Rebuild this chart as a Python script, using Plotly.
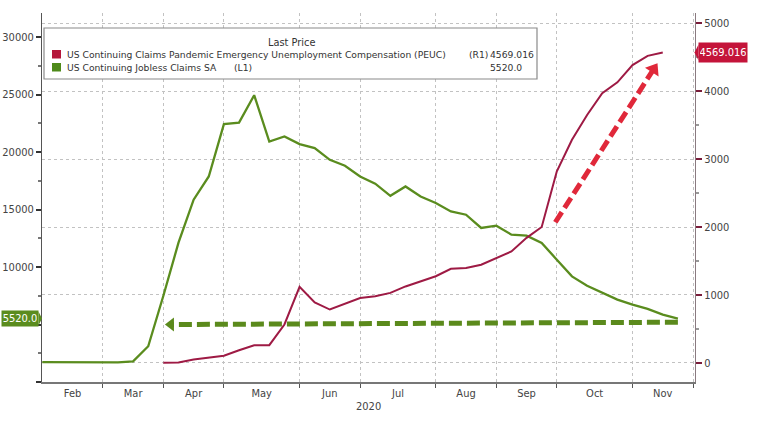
import math
import plotly.graph_objects as go
import pandas as pd

# ---------------- data ----------------
weeks = [d.strftime("%Y-%m-%d") for d in pd.date_range("2020-02-01", periods=43, freq="W-SAT")]

jobless_sa = [1730, 1720, 1710, 1730, 1720, 1700, 1800, 3110, 7500, 12120,
              15860, 17880, 22430, 22570, 24950, 20920, 21360, 20700, 20350, 19330,
              18810, 17880, 17250, 16200, 17010, 16140, 15570, 14840, 14550, 13400,
              13600, 12820, 12730, 12090, 10640, 9190, 8380, 7750, 7170, 6730,
              6360, 5860, 5520.0]

peuc = [None, None, None, None, None, None, None, None, 0, 5,
        50, 80, 105, 185, 260, 260, 565, 1120, 890, 785,
        870, 955, 980, 1030, 1125, 1200, 1275, 1385, 1395, 1445,
        1545, 1640, 1840, 2000, 2820, 3285, 3650, 3970, 4130, 4385,
        4520, 4569.016, None]

month_labels = ["Feb", "Mar", "Apr", "May", "Jun", "Jul", "Aug", "Sep", "Oct", "Nov"]
month_label_pos = [2, 6, 10, 14.5, 19, 23.5, 28, 32, 36.5, 41]
month_bounds = [4, 8, 12, 17, 21, 26, 30, 34, 39, 43]

left_ticks = [0, 5000, 10000, 15000, 20000, 25000, 30000]
left_ticktext = ["", "", "10000", "15000", "20000", "25000", "30000"]
right_ticks = [0, 1000, 2000, 3000, 4000, 5000]

# annotation arrows (week index, axis value)
green_arrow_x = [42, 8.5]
green_arrow_y = [5200, 5000]
red_arrow_x = [33.9, 40.4]
red_arrow_y = [2070, 4325]

series_names = ["US Continuing Claims Pandemic Emergency Unemployment Compensation (PEUC)",
                "US Continuing Jobless Claims SA"]

# ---------------- style ----------------
W, H = 760, 424
L, R, T, B = 42, 695, 13, 382
X_RANGE = [-0.02, 43.13]
Y1_RANGE = [0, 32100]
Y2_RANGE = [-282, 5151]
GREEN = "#5a8c1e"
RED_LINE = "#9e1a44"
RED_TAG = "#c4143a"
FONT = "DejaVu Sans"
TICKFONT = "Liberation Sans Narrow, DejaVu Sans Condensed, Liberation Sans"


def px_x(p):
    return (p - L) / (R - L)


def px_y(p):
    return (B - p) / (B - T)


# screen angle of the red arrow (degrees clockwise from up)
sx = (R - L) / (X_RANGE[1] - X_RANGE[0])
sy2 = (B - T) / (Y2_RANGE[1] - Y2_RANGE[0])
red_angle = math.degrees(math.atan2((red_arrow_x[1] - red_arrow_x[0]) * sx,
                                    (red_arrow_y[1] - red_arrow_y[0]) * sy2))

x_idx = list(range(len(weeks)))

fig = go.Figure()
fig.add_trace(go.Scatter(x=x_idx, y=jobless_sa, yaxis="y", mode="lines",
                         line=dict(color=GREEN, width=2.3), customdata=weeks,
                         name=series_names[1]))
fig.add_trace(go.Scatter(x=x_idx, y=peuc, yaxis="y2", mode="lines",
                         line=dict(color=RED_LINE, width=2), customdata=weeks,
                         name=series_names[0]))

# dashed arrows
fig.add_trace(go.Scatter(x=green_arrow_x, y=green_arrow_y, yaxis="y", mode="lines",
                         line=dict(color="#5b8a1c", width=5, dash="13px,5px"),
                         hoverinfo="skip"))
fig.add_trace(go.Scatter(x=[green_arrow_x[-1]], y=[green_arrow_y[-1]], yaxis="y", mode="markers",
                         marker=dict(size=12, symbol="triangle-left", color="#5b8a1c"),
                         hoverinfo="skip"))
fig.add_trace(go.Scatter(x=red_arrow_x, y=red_arrow_y, yaxis="y2", mode="lines",
                         line=dict(color="#e0283a", width=5, dash="12px,5px"),
                         hoverinfo="skip"))
fig.add_trace(go.Scatter(x=[red_arrow_x[-1]], y=[red_arrow_y[-1]], yaxis="y2", mode="markers",
                         marker=dict(size=14, symbol="triangle-up", angle=red_angle,
                                     color="#e0283a"),
                         hoverinfo="skip"))

fig.update_layout(
    width=W, height=H,
    margin=dict(l=L, r=W - R, t=T, b=H - B, autoexpand=False),
    paper_bgcolor="white", plot_bgcolor="white",
    showlegend=False,
    font=dict(family=FONT, size=10, color="#333"),
    xaxis=dict(
        range=X_RANGE, tickmode="array", tickvals=month_label_pos, ticktext=month_labels,
        ticks="", showgrid=False, zeroline=False,
        showline=True, linecolor="#777", linewidth=2,
        tickfont=dict(family=TICKFONT, size=11, color="#444"),
        minor=dict(tickvals=month_bounds, ticks="outside", ticklen=4, tickcolor="#555",
                   showgrid=True, griddash="dot", gridcolor="#c2c2c2", gridwidth=1),
    ),
    yaxis=dict(
        range=Y1_RANGE, tickmode="array", tickvals=left_ticks, ticktext=left_ticktext,
        ticks="outside", ticklen=5, tickwidth=2, tickcolor="#333",
        showgrid=False, zeroline=False, showline=True, linecolor="#555", linewidth=1,
        tickfont=dict(family=TICKFONT, size=11, color="#444"),
        minor=dict(dtick=2500, ticks="outside", ticklen=3, tickcolor="#777"),
    ),
    yaxis2=dict(
        range=Y2_RANGE, overlaying="y", side="right", tickmode="array", tickvals=right_ticks,
        ticks="outside", ticklen=6, tickwidth=2, tickcolor="#7a1c3a",
        showgrid=True, griddash="dot", gridcolor="#c2c2c2", gridwidth=1,
        zeroline=False, showline=True, linecolor="#8a7a80", linewidth=1,
        tickfont=dict(family=TICKFONT, size=11, color="#444"),
        minor=dict(dtick=500, ticks="outside", ticklen=3, tickcolor="#999"),
    ),
)

# ---------------- legend box ----------------
shapes = [
    dict(type="rect", xref="paper", yref="paper", x0=px_x(44), x1=px_x(537),
         y0=px_y(79), y1=px_y(28), line=dict(color="#8a8a8a", width=1.2),
         fillcolor="white", layer="above"),
    dict(type="rect", xref="paper", yref="paper", x0=px_x(52), x1=px_x(61),
         y0=px_y(58.5), y1=px_y(50), line=dict(width=0), fillcolor="#b5173b", layer="above"),
    dict(type="rect", xref="paper", yref="paper", x0=px_x(52), x1=px_x(61),
         y0=px_y(71.5), y1=px_y(63), line=dict(width=0), fillcolor="#4e8a1a", layer="above"),
]
lg_font = dict(family=FONT, size=9.2, color="#333")
ann = [
    dict(text="Last Price", x=px_x(291), y=px_y(42.5), xanchor="center",
         font=dict(family=FONT, size=9.8, color="#333")),
    dict(text=series_names[0], x=px_x(65), y=px_y(54.5), xanchor="left"),
    dict(text="(R1)", x=px_x(467), y=px_y(54.5), xanchor="left"),
    dict(text=f"{peuc[-2]:.3f}", x=px_x(488), y=px_y(54.5), xanchor="left"),
    dict(text=series_names[1], x=px_x(65), y=px_y(67.5), xanchor="left"),
    dict(text="(L1)", x=px_x(232), y=px_y(67.5), xanchor="left"),
    dict(text=f"{jobless_sa[-1]:.1f}", x=px_x(488), y=px_y(67.5), xanchor="left"),
]
annotations = []
for a in ann:
    a.setdefault("font", lg_font)
    a.update(xref="paper", yref="paper", yanchor="middle", showarrow=False)
    annotations.append(a)

# year label
annotations.append(dict(text="2020", xref="paper", yref="paper", x=0.5, y=0, yanchor="top",
                        yshift=-16, showarrow=False,
                        font=dict(family=TICKFONT, size=11, color="#444")))

# last-value tags
annotations.append(dict(text=f"{jobless_sa[-1]:.1f}", xref="paper", yref="y", x=px_x(39),
                        y=jobless_sa[-1], xanchor="right", yanchor="middle", showarrow=False,
                        bgcolor=GREEN, borderpad=1, width=34, height=13, align="center",
                        font=dict(family=TICKFONT, size=11, color="white")))
annotations.append(dict(text=f"{peuc[-2]:.3f}", xref="paper", yref="y2", x=px_x(698),
                        y=peuc[-2], xanchor="left", yanchor="middle", showarrow=False,
                        bgcolor=RED_TAG, borderpad=1, width=46, height=17, align="center",
                        font=dict(family=TICKFONT, size=11, color="white")))
# tag points
gy = jobless_sa[-1]
dy_l = 7 / ((B - T) / (Y1_RANGE[1] - Y1_RANGE[0]))
shapes.append(dict(type="path", xref="paper", yref="y",
                   path=f"M {px_x(38.5)},{gy + dy_l} L {px_x(42)},{gy} L {px_x(38.5)},{gy - dy_l} Z",
                   fillcolor=GREEN, line=dict(width=0), layer="above"))
ry = peuc[-2]
dy_r = 8 / sy2
shapes.append(dict(type="path", xref="paper", yref="y2",
                   path=f"M {px_x(698.5)},{ry + dy_r} L {px_x(694.5)},{ry} L {px_x(698.5)},{ry - dy_r} Z",
                   fillcolor=RED_TAG, line=dict(width=0), layer="above"))

fig.update_layout(shapes=shapes, annotations=annotations)
fig.write_html("out.html", config={"displayModeBar": False},
               post_script="document.body.style.margin='0px';")
